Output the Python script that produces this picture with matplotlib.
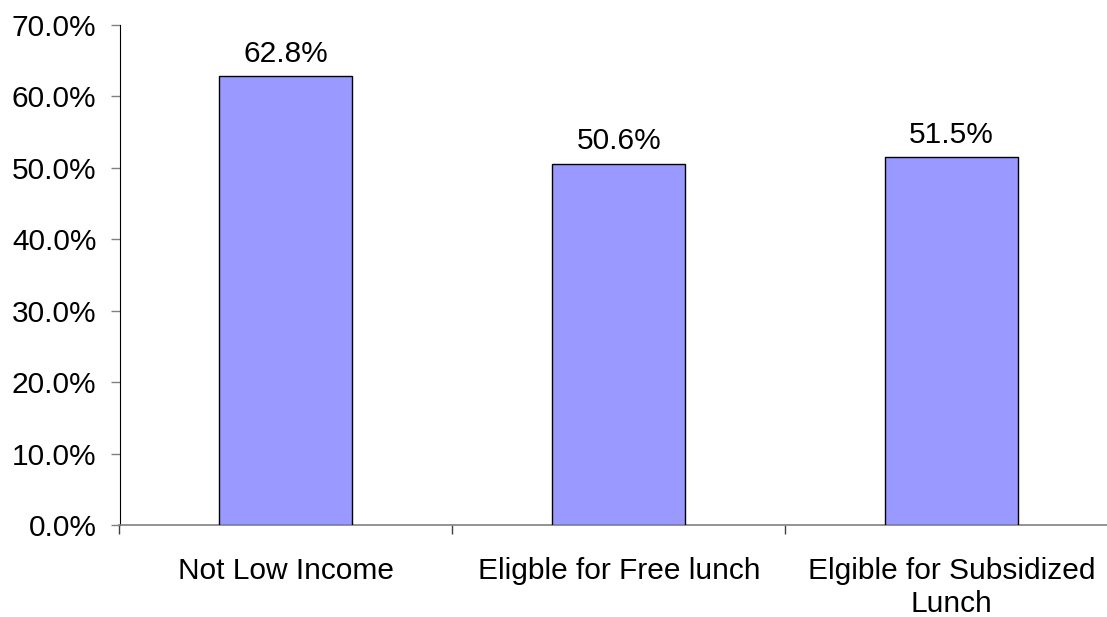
import matplotlib.pyplot as plt
import numpy as np

plt.rcParams['font.family'] = ['Liberation Sans', 'DejaVu Sans']

# data
categories = ["Not Low Income", "Eligble for Free lunch", "Elgible for Subsidized\nLunch"]
values = [62.8, 50.6, 51.5]
yticks = [0, 10, 20, 30, 40, 50, 60, 70]

fs = 21.5

fig = plt.figure(figsize=(11.07, 6.17), dpi=100)
# axes run a little past the right edge, like the original
ax = fig.add_axes([119.5 / 1107, (617 - 525) / 617, 998.5 / 1107, 500 / 617])

x = np.arange(len(categories))
ax.bar(x, values, width=0.4, color='#9999FF', edgecolor='black', linewidth=1.0, zorder=3)

for xi, v in zip(x, values):
    ax.annotate(f"{v:.1f}%", (xi, v), xytext=(0, 6), textcoords='offset points',
                ha='center', va='bottom', fontsize=fs)

ax.set_xlim(-0.5, len(categories) - 0.5)
ax.set_ylim(0, 70)
ax.set_yticks(yticks)
ax.set_yticklabels([f"{t:.1f}%" for t in yticks], fontsize=fs)
ax.tick_params(axis='y', direction='out', length=6.5, width=1, color='#808080', pad=10)

# ticks between categories, labels at the centres
ax.set_xticks(np.arange(len(categories) + 1) - 0.5)
ax.set_xticklabels([])
ax.tick_params(axis='x', which='major', direction='out', length=6.5, width=1, color='#404040')
ax.set_xticks(x, minor=True)
ax.set_xticklabels(categories, minor=True, fontsize=fs, ha='center', linespacing=1.22)
ax.tick_params(axis='x', which='minor', length=0, pad=23)

for s in ['top', 'right']:
    ax.spines[s].set_visible(False)
ax.spines['left'].set_color('black')
ax.spines['bottom'].set_color('#808080')
ax.spines['bottom'].set_linewidth(1.2)

fig.savefig('out.png', dpi=100)
